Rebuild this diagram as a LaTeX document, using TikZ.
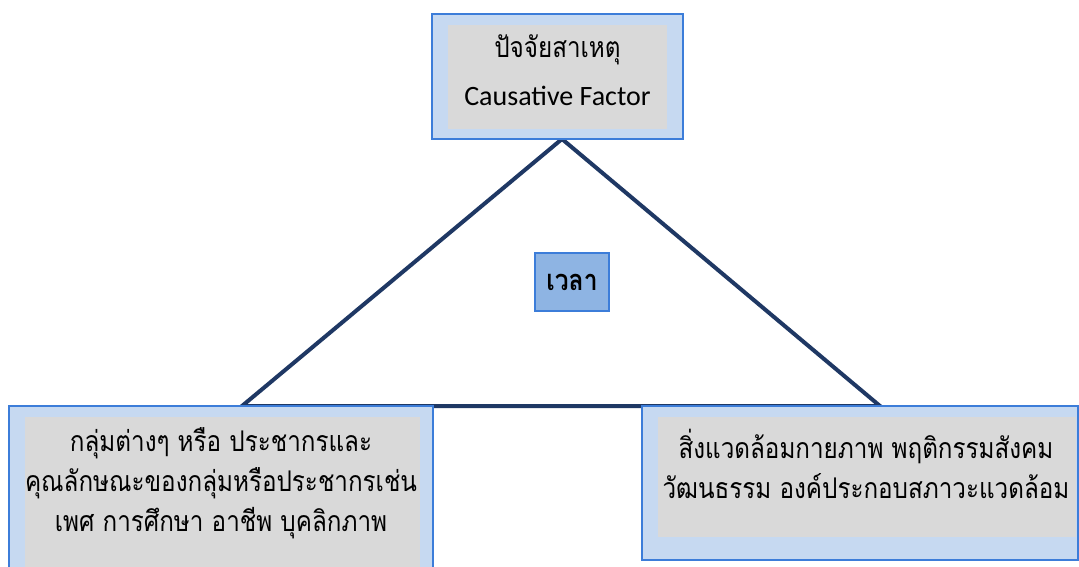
\documentclass[tikz,border=0pt]{standalone}
\usepackage{fontspec}
\setmainfont{Carlito}
\newfontfamily\thaifont[Script=Thai, FakeStretch=0.85]{Loma}
\usetikzlibrary{positioning}

\definecolor{outerfill}{HTML}{C6D9F1}
\definecolor{boxline}{HTML}{3C7DD9}
\definecolor{innerfill}{HTML}{D9D9D9}
\definecolor{timefill}{HTML}{8EB4E3}
\definecolor{navyline}{HTML}{1F3864}

\tikzset{
    outerbox/.style={draw=boxline, fill=outerfill, line width=1.2pt, inner sep=0pt},
    innerbox/.style={fill=innerfill, inner sep=0pt},
    label text/.style={align=center, inner sep=0pt, font=\thaifont\fontsize{28.5}{40}\selectfont},
}

\begin{document}
\begin{tikzpicture}[x=1pt, y=-1pt]
    \useasboundingbox (0,0) rectangle (1079,566);
    \clip (0,0) rectangle (1079,566);

    % Triangle
    \coordinate (apex) at (562,139);
    \coordinate (baseL) at (242,406);
    \coordinate (baseR) at (880,406);
    \draw[navyline, line width=4pt] (baseL) -- (apex) -- (baseR) -- cycle;

    % Causative factor
    \node[outerbox, minimum width=251pt, minimum height=125pt] (cause) at (557.5,76.5) {};
    \node[innerbox, minimum width=219pt, minimum height=104pt] (causein) at (557.5,77) {};
    \node[label text] (causetxt) at (557.5,50) {ปัจจัยสาเหตุ};
    \node[inner sep=0pt, font=\fontsize{28}{32}\selectfont] (causeen) at (557.5,96) {Causative Factor};

    % Host
    \node[outerbox, minimum width=424pt, minimum height=180pt] (host) at (221,496) {};
    \node[innerbox, minimum width=395pt, minimum height=160pt] (hostin) at (222.5,497) {};
    \node[label text] (hosttxt) at (221,483)
        {กลุ่มต่างๆ หรือ ประชากรและ\\คุณลักษณะของกลุ่มหรือประชากรเช่น\\เพศ การศึกษา อาชีพ บุคลิกภาพ};

    % Environment
    \node[outerbox, minimum width=436pt, minimum height=154pt] (env) at (860,483) {};
    \node[innerbox, minimum width=418pt, minimum height=120pt] (envin) at (867,477) {};
    \node[label text] (envtxt) at (866,463.5)
        {สิ่งแวดล้อมกายภาพ พฤติกรรมสังคม\\วัฒนธรรม องค์ประกอบสภาวะแวดล้อม};

    % Time
    \node[draw=boxline, fill=timefill, line width=1.2pt, minimum width=74pt, minimum height=58pt,
          font=\thaifont\bfseries\fontsize{29}{32}\selectfont] (time) at (572,282) {เวลา};
\end{tikzpicture}
\end{document}
